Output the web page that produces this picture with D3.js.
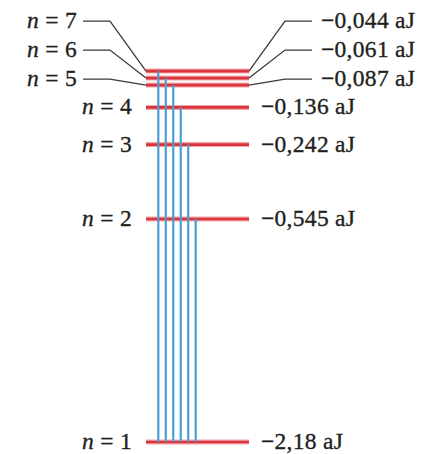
<!DOCTYPE html>
<html>
<head>
<meta charset="utf-8">
<script src="https://cdn.jsdelivr.net/npm/d3@7"></script>
<style>
  body { margin: 0; background: #fff; }
  text {
    font-family: "Liberation Serif", "DejaVu Serif", serif;
    fill: #231f20;
    stroke: #231f20;
    stroke-width: 0.35px;
    letter-spacing: 0.3px;
  }
</style>
</head>
<body>
<div id="chart"></div>
<script>
// energy levels of hydrogen (aJ)
const levels = [1, 2, 3, 4, 5, 6, 7];
const energies = [-2.18, -0.545, -0.242, -0.136, -0.087, -0.061, -0.044];
// transitions down to n = 1, drawn left to right
const transitions = [7, 6, 5, 4, 3, 2];

const width = 424;
const height = 454;

const svg = d3
  .select("#chart")
  .append("svg")
  .attr("width", width)
  .attr("height", height);

const fmt = d3.formatLocale({
  decimal: ",",
  thousands: ".",
  grouping: [3],
  currency: ["", ""],
  minus: "\u2212",
}).format(".3");

// vertical position ~ 1/n, i.e. sqrt of |E|
const y = d3.scaleSqrt().domain([0, 2.18]).range([-4, 442]);

const crowdedFrom = 5; // levels drawn with a fixed small gap
const levelGap = 7;
const labelGap = 29;

const data = levels.map((n, i) => ({ n, e: energies[i] }));
data.forEach((d, i) => {
  if (d.n <= crowdedFrom) d.y = y(-d.e);
  else d.y = data[i - 1].y - levelGap;
  d.crowded = d.n >= crowdedFrom;
});
data.forEach((d) => {
  if (d.crowded) {
    d.ly = data[crowdedFrom - 1].y - 6 - (d.n - crowdedFrom) * labelGap;
  } else d.ly = d.y;
});
const byN = new Map(data.map((d) => [d.n, d]));

const x0 = 146, x1 = 249;

// leader lines for crowded levels
const leader = d3.line();
const crowded = data.filter((d) => d.crowded);
svg
  .append("g")
  .attr("fill", "none")
  .attr("stroke", "#3a3a3a")
  .attr("stroke-width", 1.3)
  .selectAll("path")
  .data(crowded)
  .join("path")
  .attr("d", (d) =>
    leader([[83, d.ly], [110, d.ly], [x0, d.y]]) +
    leader([[x1, d.y], [285, d.ly], [312, d.ly]])
  );

// level lines
const gLevels = svg.append("g");
gLevels
  .selectAll("line.halo")
  .data(data)
  .join("line")
  .attr("class", "halo")
  .attr("x1", x0)
  .attr("x2", x1)
  .attr("y1", (d) => d.y)
  .attr("y2", (d) => d.y)
  .attr("stroke", "#f2a5a8")
  .attr("stroke-width", 5);
gLevels
  .selectAll("line.level")
  .data(data)
  .join("line")
  .attr("class", "level")
  .attr("x1", x0)
  .attr("x2", x1)
  .attr("y1", (d) => d.y)
  .attr("y2", (d) => d.y)
  .attr("stroke", "#d9343d")
  .attr("stroke-width", 2.6);

// transitions
const x = d3.scalePoint().domain(transitions).range([158.3, 195.7]);
svg
  .append("g")
  .selectAll("line")
  .data(transitions)
  .join("line")
  .attr("x1", (d) => x(d))
  .attr("x2", (d) => x(d))
  .attr("y1", (d) => byN.get(d).y)
  .attr("y2", byN.get(1).y)
  .attr("stroke", "#4a9fd3")
  .attr("stroke-width", 2.2);

// labels
const fs = 23.5;
const left = svg
  .append("g")
  .selectAll("text")
  .data(data)
  .join("text")
  .attr("x", (d) => (d.crowded ? 77 : 132))
  .attr("y", (d) => d.ly)
  .attr("dy", "0.3em")
  .attr("text-anchor", "end")
  .attr("font-size", fs);
left.append("tspan").attr("font-style", "italic").text("n");
left.append("tspan").text((d) => " = " + d.n);

svg
  .append("g")
  .selectAll("text")
  .data(data)
  .join("text")
  .attr("x", (d) => (d.crowded ? 321 : 261))
  .attr("y", (d) => d.ly)
  .attr("dy", "0.3em")
  .attr("font-size", fs)
  .text((d) => fmt(d.e) + " aJ");
</script>
</body>
</html>
